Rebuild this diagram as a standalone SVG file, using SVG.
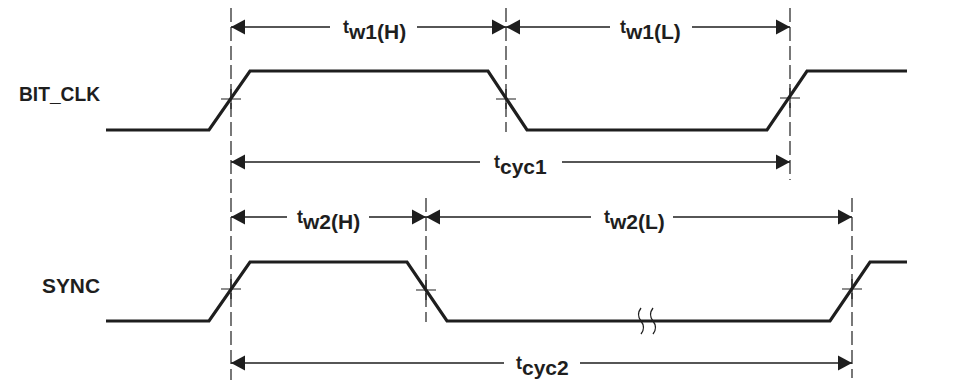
<svg xmlns="http://www.w3.org/2000/svg" width="963" height="381" viewBox="0 0 963 381">
<style>
.wave{fill:none;stroke:#1e1e1e;stroke-width:3.2;stroke-linejoin:miter}
.dash{fill:none;stroke:#1e1e1e;stroke-width:1.2;stroke-dasharray:14 5}
.cross{fill:none;stroke:#1e1e1e;stroke-width:1.2}
.dim{fill:none;stroke:#1e1e1e;stroke-width:1.3}
.lbl{font-family:"Liberation Sans",Arial,sans-serif;font-weight:bold;font-size:21px;fill:#1e1e1e}
.t{font-family:"Liberation Sans",Arial,sans-serif;font-weight:bold;font-size:18px;fill:#1e1e1e}
.sub{font-size:21px}
</style>
<defs>
<marker id="ah" markerUnits="userSpaceOnUse" markerWidth="15" markerHeight="16" refX="14" refY="8" orient="auto-start-reverse">
<path d="M0,0.5 L14,8 L0,15.5 Z" fill="#1e1e1e"/>
</marker>
</defs>
<rect width="963" height="381" fill="#fff"/>
<g id="guides">
<line class="dash" x1="231" y1="8" x2="231" y2="380"/>
<line class="dash" x1="506" y1="8" x2="506" y2="132"/>
<line class="dash" x1="790" y1="8" x2="790" y2="180"/>
<line class="dash" x1="426" y1="198" x2="426" y2="322"/>
<line class="dash" x1="852" y1="198" x2="852" y2="378"/>
</g>
<g id="bit_clk">
<text class="lbl" x="100" y="101" text-anchor="end" textLength="81" lengthAdjust="spacingAndGlyphs">BIT_CLK</text>
<polyline class="wave" points="106,130 209,130 250,71 488,71 527,130 767,130 807,71 907,71"/>
<path class="cross" d="M221,99 H241 M231,89 V109 M496,99 H516 M506,89 V109 M780,98 H800 M790,88 V108"/>
</g>
<g id="sync">
<text class="lbl" x="100" y="293" text-anchor="end" textLength="58" lengthAdjust="spacingAndGlyphs">SYNC</text>
<polyline class="wave" points="106,321 209,321 250,262 407,262 447,321 830,321 870,262 907,262"/>
<path class="cross" d="M221,289 H241 M231,279 V299 M416,290 H436 M426,280 V300 M842,289 H862 M852,279 V299"/>
<path d="M641,308 q-5,6.5 0,13 q5,6.5 0,13 M653,308 q-5,6.5 0,13 q5,6.5 0,13" fill="none" stroke="#1e1e1e" stroke-width="1.3"/>
</g>
<g id="connectors">
<line class="dim" x1="330" y1="27" x2="231" y2="27" marker-end="url(#ah)"/>
<line class="dim" x1="417" y1="27" x2="506" y2="27" marker-end="url(#ah)"/>
<line class="dim" x1="610" y1="27" x2="506" y2="27" marker-end="url(#ah)"/>
<line class="dim" x1="692" y1="27" x2="790" y2="27" marker-end="url(#ah)"/>
<line class="dim" x1="480" y1="162" x2="231" y2="162" marker-end="url(#ah)"/>
<line class="dim" x1="562" y1="162" x2="790" y2="162" marker-end="url(#ah)"/>
<line class="dim" x1="287" y1="217" x2="231" y2="217" marker-end="url(#ah)"/>
<line class="dim" x1="369" y1="217" x2="426" y2="217" marker-end="url(#ah)"/>
<line class="dim" x1="591" y1="217" x2="426" y2="217" marker-end="url(#ah)"/>
<line class="dim" x1="673" y1="217" x2="852" y2="217" marker-end="url(#ah)"/>
<line class="dim" x1="504" y1="363" x2="231" y2="363" marker-end="url(#ah)"/>
<line class="dim" x1="580" y1="363" x2="852" y2="363" marker-end="url(#ah)"/>
</g>
<g id="labels">
<text class="t" x="343" y="33">t<tspan class="sub" y="39">w1(H)</tspan></text>
<text class="t" x="620" y="33">t<tspan class="sub" y="39">w1(L)</tspan></text>
<text class="t" x="494" y="168">t<tspan class="sub" y="174">cyc1</tspan></text>
<text class="t" x="297" y="223">t<tspan class="sub" y="229">w2(H)</tspan></text>
<text class="t" x="604" y="223">t<tspan class="sub" y="229">w2(L)</tspan></text>
<text class="t" x="516" y="369">t<tspan class="sub" y="375">cyc2</tspan></text>
</g>
</svg>
